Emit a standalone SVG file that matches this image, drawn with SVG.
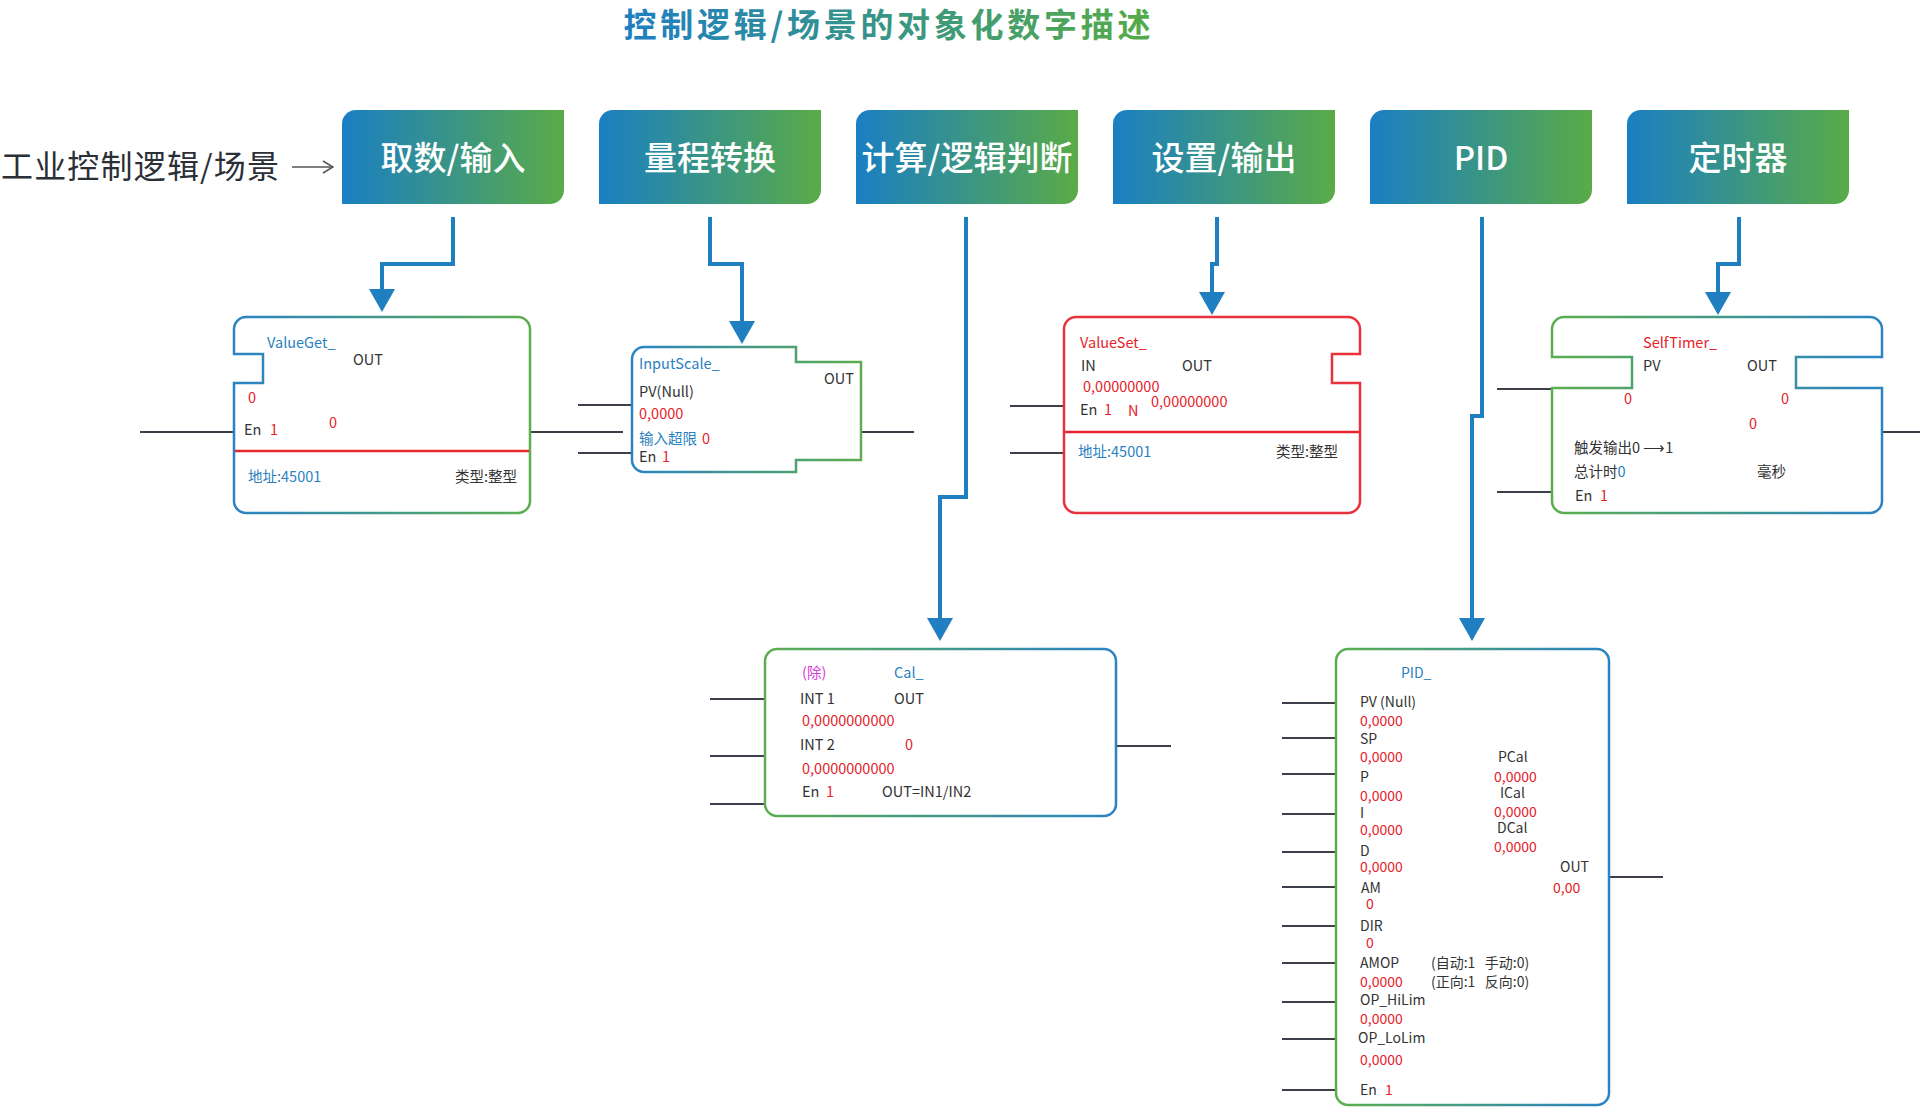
<svg xmlns="http://www.w3.org/2000/svg" width="1920" height="1108" viewBox="0 0 1920 1108">
<defs>
<linearGradient id="hdr" x1="0" y1="0" x2="1" y2="0"><stop offset="0" stop-color="#1a7fc3"/><stop offset="1" stop-color="#5aab47"/></linearGradient>
<linearGradient id="ttl" x1="0" y1="0" x2="1" y2="0"><stop offset="0" stop-color="#1e7fc2"/><stop offset="1" stop-color="#55ab48"/></linearGradient>
<linearGradient id="gBG" x1="0" y1="0" x2="1" y2="0"><stop offset="0" stop-color="#2a83c4"/><stop offset="1" stop-color="#5cae4e"/></linearGradient>
<linearGradient id="gGB" x1="0" y1="0" x2="1" y2="0"><stop offset="0" stop-color="#5cae4e"/><stop offset="1" stop-color="#2a83c4"/></linearGradient>
<marker id="ah" markerUnits="userSpaceOnUse" markerWidth="23" markerHeight="26" viewBox="0 0 23 26" refX="0" refY="13" orient="auto"><path d="M0,0 L23,13 L0,26 z" fill="#1f7fc0"/></marker>
<marker id="thin" markerUnits="userSpaceOnUse" markerWidth="12" markerHeight="14" viewBox="0 0 12 14" refX="11" refY="7" orient="auto"><path d="M1,1 L11,7 L1,13" fill="none" stroke="#555" stroke-width="1.5"/></marker>
</defs>
<style>
text{font-family:"Noto Sans CJK SC","Noto Sans",sans-serif;}
.hb{fill:url(#hdr);}
.ht{fill:#fff;font-size:33px;font-weight:500;text-anchor:middle;}
.t{font-size:14.5px;fill:#333;}
.p{font-size:14px;}
.r{fill:#e6212a;}
.b{fill:#2a7fc0;}
.m{fill:#d93ad6;}
.e{text-anchor:end;}
.conn{fill:none;stroke:#1f7fc0;stroke-width:4;marker-end:url(#ah);}
.w{fill:none;stroke:#3a3f4a;stroke-width:2;}
.nbg{fill:#fff;stroke:url(#gBG);stroke-width:2.5;}
.ngb{fill:#fff;stroke:url(#gGB);stroke-width:2.5;}
.nred{fill:#fff;stroke:#e8323c;stroke-width:2.5;}
.sep{stroke:#e8262d;stroke-width:2.5;}
</style>
<rect width="1920" height="1108" fill="#fff"/>
<text x="887" y="37" font-size="33" text-anchor="middle" textLength="527" lengthAdjust="spacing" fill="url(#ttl)" font-weight="600">控制逻辑/场景的对象化数字描述</text>
<text x="1" y="178" font-size="32" fill="#2b2f36" textLength="278" lengthAdjust="spacing">工业控制逻辑/场景</text>
<path d="M292,167 H333" fill="none" stroke="#555" stroke-width="1.5" marker-end="url(#thin)"/>

<g id="header1"><path class="hb" d="M356,110 H564 V190 A14,14 0 0 1 550,204 H342 V124 A14,14 0 0 1 356,110 Z"/><text class="ht" x="453" y="170">取数/输入</text></g>
<g id="header2"><path class="hb" d="M613,110 H821 V190 A14,14 0 0 1 807,204 H599 V124 A14,14 0 0 1 613,110 Z"/><text class="ht" x="710" y="170">量程转换</text></g>
<g id="header3"><path class="hb" d="M870,110 H1078 V190 A14,14 0 0 1 1064,204 H856 V124 A14,14 0 0 1 870,110 Z"/><text class="ht" x="967" y="170">计算/逻辑判断</text></g>
<g id="header4"><path class="hb" d="M1127,110 H1335 V190 A14,14 0 0 1 1321,204 H1113 V124 A14,14 0 0 1 1127,110 Z"/><text class="ht" x="1224" y="170">设置/输出</text></g>
<g id="header5"><path class="hb" d="M1384,110 H1592 V190 A14,14 0 0 1 1578,204 H1370 V124 A14,14 0 0 1 1384,110 Z"/><text class="ht" x="1481" y="170">PID</text></g>
<g id="header6"><path class="hb" d="M1641,110 H1849 V190 A14,14 0 0 1 1835,204 H1627 V124 A14,14 0 0 1 1641,110 Z"/><text class="ht" x="1738" y="170">定时器</text></g>

<g id="connectors">
<path class="conn" d="M453,217 V264 H382 V289"/>
<path class="conn" d="M710,217 V264 H742 V321"/>
<path class="conn" d="M966,217 V497 H940 V618"/>
<path class="conn" d="M1217,217 V264 H1212 V292"/>
<path class="conn" d="M1482,217 V416 H1472 V618"/>
<path class="conn" d="M1739,217 V264 H1718 V292"/>
<path class="w" d="M140,432 H234 M530,432 H623 M578,405 H632 M578,453 H632 M861,432 H914 M1010,406 H1064 M1010,453 H1064 M1497,389 H1552 M1497,492 H1552 M1882,432 H1920 M710,699 H765 M710,756 H765 M710,804 H765 M1116,746 H1171 M1282,703 H1336 M1282,738 H1336 M1282,774 H1336 M1282,814 H1336 M1282,852 H1336 M1282,887 H1336 M1282,926 H1336 M1282,963 H1336 M1282,1002 H1336 M1282,1039 H1336 M1282,1090 H1336 M1609,877 H1663"/>
</g>

<g id="ValueGet">
<path class="nbg" d="M246,317 H518 A12,12 0 0 1 530,329 V501 A12,12 0 0 1 518,513 H246 A12,12 0 0 1 234,501 V383 H263 V354 H234 V329 A12,12 0 0 1 246,317 Z"/>
<line class="sep" x1="235" y1="451" x2="529" y2="451"/>
<text class="t b" x="267" y="348">ValueGet_</text>
<text class="t" x="353" y="365">OUT</text>
<text class="t r" x="248" y="403">0</text>
<text class="t" x="244" y="435">En</text><text class="t r" x="270" y="435">1</text>
<text class="t r" x="329" y="428">0</text>
<text class="t b" x="248" y="482">地址:45001</text>
<text class="t e" x="517" y="482">类型:整型</text>
</g>

<g id="InputScale">
<path class="nbg" d="M644,347 H796 V362 H861 V460 H796 V472 H644 A12,12 0 0 1 632,460 V359 A12,12 0 0 1 644,347 Z"/>
<text class="t b" x="639" y="369">InputScale_</text>
<text class="t" x="639" y="397">PV(Null)</text>
<text class="t r" x="639" y="419">0,0000</text>
<text class="t b" x="639" y="444">输入超限</text><text class="t r" x="702" y="444">0</text>
<text class="t" x="639" y="462">En</text><text class="t r" x="662" y="462">1</text>
<text class="t" x="824" y="384">OUT</text>
</g>

<g id="ValueSet">
<path class="nred" d="M1076,317 H1348 A12,12 0 0 1 1360,329 V354 H1332 V383 H1360 V501 A12,12 0 0 1 1348,513 H1076 A12,12 0 0 1 1064,501 V329 A12,12 0 0 1 1076,317 Z"/>
<line class="sep" x1="1065" y1="432" x2="1359" y2="432"/>
<text class="t r" x="1080" y="348">ValueSet_</text>
<text class="t" x="1081" y="371">IN</text>
<text class="t" x="1182" y="371">OUT</text>
<text class="t r" x="1083" y="392">0,00000000</text>
<text class="t" x="1080" y="415">En</text><text class="t r" x="1104" y="415">1</text><text class="t r" x="1128" y="416">N</text>
<text class="t r" x="1151" y="407">0,00000000</text>
<text class="t b" x="1078" y="457">地址:45001</text>
<text class="t e" x="1338" y="457">类型:整型</text>
</g>

<g id="SelfTimer">
<path class="ngb" d="M1564,317 H1870 A12,12 0 0 1 1882,329 V357 H1796 V388 H1882 V501 A12,12 0 0 1 1870,513 H1564 A12,12 0 0 1 1552,501 V388 H1632 V357 H1552 V329 A12,12 0 0 1 1564,317 Z"/>
<text class="t r" x="1643" y="348">SelfTimer_</text>
<text class="t" x="1643" y="371">PV</text>
<text class="t" x="1747" y="371">OUT</text>
<text class="t r" x="1624" y="404">0</text>
<text class="t r" x="1781" y="404">0</text>
<text class="t r" x="1749" y="429">0</text>
<text class="t" x="1574" y="453">触发输出0 ⟶1</text>
<text class="t" x="1574" y="477">总计时<tspan class="b">0</tspan></text>
<text class="t" x="1757" y="477">毫秒</text>
<text class="t" x="1575" y="501">En</text><text class="t r" x="1600" y="501">1</text>
</g>

<g id="Cal">
<rect class="ngb" x="765" y="649" width="351" height="167" rx="12"/>
<text class="t m" x="802" y="678">(除)</text>
<text class="t b" x="894" y="678">Cal_</text>
<text class="t" x="800" y="704">INT 1</text><text class="t" x="894" y="704">OUT</text>
<text class="t r" x="802" y="726">0,0000000000</text>
<text class="t" x="800" y="750">INT 2</text><text class="t r" x="905" y="750">0</text>
<text class="t r" x="802" y="774">0,0000000000</text>
<text class="t" x="802" y="797">En</text><text class="t r" x="826" y="797">1</text>
<text class="t" x="882" y="797">OUT=IN1/IN2</text>
</g>

<g id="PID">
<rect class="ngb" x="1336" y="649" width="273" height="456" rx="12"/>
<text class="t p b" x="1401" y="678">PID_</text>
<text class="t p" x="1360" y="707">PV (Null)</text>
<text class="t p r" x="1360" y="726">0,0000</text>
<text class="t p" x="1360" y="744">SP</text>
<text class="t p r" x="1360" y="762">0,0000</text>
<text class="t p" x="1360" y="782">P</text>
<text class="t p r" x="1360" y="801">0,0000</text>
<text class="t p" x="1360" y="818">I</text>
<text class="t p r" x="1360" y="835">0,0000</text>
<text class="t p" x="1360" y="856">D</text>
<text class="t p r" x="1360" y="872">0,0000</text>
<text class="t p" x="1498" y="762">PCal</text>
<text class="t p r" x="1494" y="782">0,0000</text>
<text class="t p" x="1500" y="798">ICal</text>
<text class="t p r" x="1494" y="817">0,0000</text>
<text class="t p" x="1497" y="833">DCal</text>
<text class="t p r" x="1494" y="852">0,0000</text>
<text class="t p" x="1560" y="872">OUT</text>
<text class="t p r" x="1553" y="893">0,00</text>
<text class="t p" x="1361" y="893">AM</text>
<text class="t p r" x="1366" y="909">0</text>
<text class="t p" x="1360" y="931">DIR</text>
<text class="t p r" x="1366" y="948">0</text>
<text class="t p" x="1360" y="968">AMOP</text>
<text class="t p" x="1431" y="968">(自动:1&#160;&#160;&#160;手动:0)</text>
<text class="t p r" x="1360" y="987">0,0000</text>
<text class="t p" x="1431" y="987">(正向:1&#160;&#160;&#160;反向:0)</text>
<text class="t p" x="1360" y="1005">OP_HiLim</text>
<text class="t p r" x="1360" y="1024">0,0000</text>
<text class="t p" x="1358" y="1043">OP_LoLim</text>
<text class="t p r" x="1360" y="1065">0,0000</text>
<text class="t p" x="1360" y="1095">En</text><text class="t p r" x="1385" y="1095">1</text>
</g>
</svg>
